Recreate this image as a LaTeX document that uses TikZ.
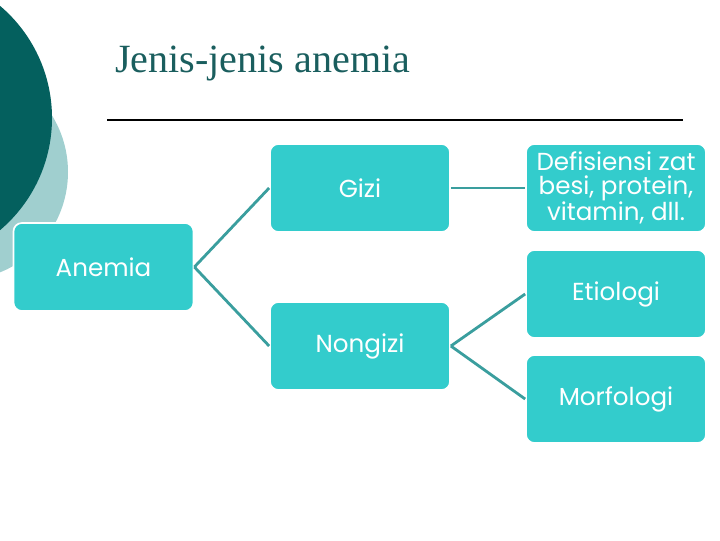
\documentclass[tikz,border=0pt]{standalone}
\usepackage{fontspec}
\setmainfont{Liberation Serif}
\newfontfamily\boxfont{Poppins}
\usetikzlibrary{positioning}
\definecolor{anmdark}{HTML}{04605E}
\definecolor{anmlight}{HTML}{A0CFCF}
\definecolor{anmbox}{HTML}{33CCCC}
\definecolor{anmline}{HTML}{3A9E9E}
\definecolor{anmtitle}{HTML}{1A5E5E}

\begin{document}
\begin{tikzpicture}[
      x=0.025cm, y=-0.025cm,
      every node/.style={font=\boxfont\fontsize{17.5}{17}\selectfont},
      item/.style={draw=white, line width=1.2pt, rounded corners=6pt, fill=anmbox,
                   text=white, minimum width=4.5cm, minimum height=2.2cm,
                   align=center, inner sep=2pt},
      link/.style={draw=anmline, line width=2pt},
    ]
    \useasboundingbox (0,0) rectangle (720,540);
    \clip (0,0) rectangle (720,540);

    % background circles
    \fill[anmlight] (-40,172) circle[radius=108];
    \fill[anmdark]  (-95,118) circle[radius=147];

    % title and rule
    \node[anchor=base west, inner sep=0, text=anmtitle,
          font=\rmfamily\fontsize{28.5}{30}\selectfont] (title) at (115,72) {Jenis-jenis anemia};
    \coordinate (ruleL) at (107,120);
    \coordinate (ruleR) at (683,120);
    \draw[line width=1.5pt] (ruleL) -- (ruleR);

    \node[item] (anemia)  at (103.5,267) {Anemia};
    \node[item] (gizi)    at (360,188)   {Gizi};
    \node[item] (nongizi) at (360,346)   {Nongizi};
    \node[item] (defis)   at (616,188)   {Defisiensi zat\\besi, protein,\\vitamin, dll.};
    \node[item] (etio)    at (616,294)   {Etiologi};
    \node[item] (morfo)   at (616,399)   {Morfologi};

    \draw[link] (anemia.east) -- (gizi.west);
    \draw[link] (anemia.east) -- (nongizi.west);
    \draw[link] (gizi.east) -- (defis.west);
    \draw[link] (nongizi.east) -- (etio.west);
    \draw[link] (nongizi.east) -- (morfo.west);
  \end{tikzpicture}
\end{document}
